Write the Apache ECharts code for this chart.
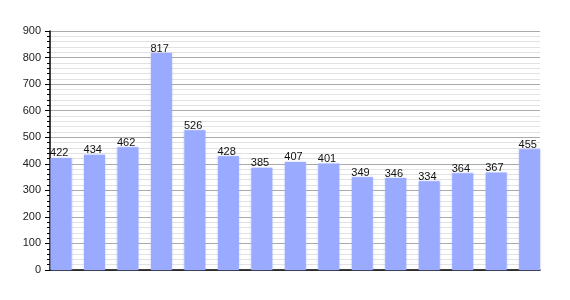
<!DOCTYPE html>
<html><head><meta charset="utf-8">
<script src="https://cdn.jsdelivr.net/npm/echarts@6/dist/echarts.min.js"></script>
<style>html,body{margin:0;padding:0;background:#fff}#c{width:570px;height:300px}</style>
</head><body><div id="c"></div>
<script>
const years = ['1861','1871','1881','1901','1911','1921','1931','1936','1951','1961','1971','1981','1991','2001','2011'];
const population = [422,434,462,817,526,428,385,407,401,349,346,334,364,367,455];
const yTicks = [0,100,200,300,400,500,600,700,800,900];

const chart = echarts.init(document.getElementById('c'), null, {renderer:'canvas'});
const font = 'Liberation Sans, Arial, sans-serif';
chart.setOption({
  animation:false,
  grid:{left:50,right:30,top:31,bottom:30},
  xAxis:{
    type:'value', min:-0.33, max:14.31, interval:1,
    axisLine:{show:true,onZero:false,lineStyle:{color:'#000',width:1.5}},
    axisTick:{show:false},
    splitLine:{show:false},
    showMinLabel:false, showMaxLabel:false,
    axisLabel:{color:'#222',fontFamily:font,fontSize:11,margin:5,
      formatter:v=>{const r=Math.round(v);return Math.abs(v-r)<1e-6&&years[r]!==undefined?years[r]:'';}}
  },
  yAxis:{
    type:'value', min:yTicks[0], max:yTicks[yTicks.length-1], interval:100,
    axisLine:{show:true,onZero:false,lineStyle:{color:'#000',width:1.5}},
    axisTick:{show:true,length:5,lineStyle:{color:'#000'}},
    minorTick:{show:true,splitNumber:5,length:3,lineStyle:{color:'#000'}},
    splitLine:{show:true,lineStyle:{color:'#aaa',width:1}},
    minorSplitLine:{show:true,lineStyle:{color:'#e2e2e2',width:1}},
    axisLabel:{color:'#222',fontFamily:font,fontSize:11,margin:9}
  },
  series:[{
    type:'bar',
    data:population.map((v,i)=>[i,v]),
    barWidth:21,
    clip:false,
    itemStyle:{color:'#99aaff',shadowColor:'rgba(153,170,255,0.6)',shadowBlur:2},
    label:{show:true,position:'top',distance:-1,align:'left',offset:[-11,0],
      color:'#111',fontFamily:font,fontSize:11}
  }]
});
</script></body></html>
